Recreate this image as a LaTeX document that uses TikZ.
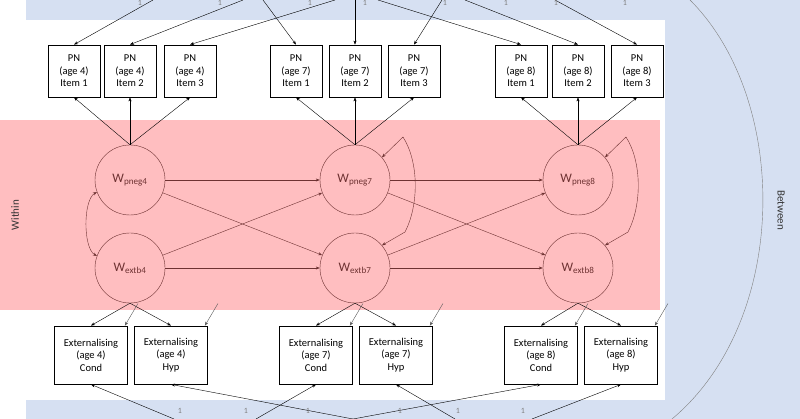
\documentclass[tikz,border=0pt]{standalone}
\usepackage{fontspec}
\setmainfont{Carlito}
\usetikzlibrary{arrows.meta}
\definecolor{bband}{RGB}{214,224,242}
\definecolor{pinkb}{RGB}{255,190,192}
\definecolor{wline}{RGB}{110,50,50}
\begin{document}
\begin{tikzpicture}[x=1pt,y=-1pt,
  box/.style={draw,thick,fill=white,align=center,font=\fontsize{10.5}{12.5}\selectfont,inner sep=1pt},
  pn/.style={box,minimum width=52pt,minimum height=52pt},
  ex/.style={box,minimum width=73pt,minimum height=58pt},
  lat/.style={circle,draw=wline,minimum size=70pt,text=wline,font=\fontsize{13}{14}\selectfont},
  arr/.style={-{Stealth[length=4pt,width=3pt]},thin},
  warr/.style={arr,draw=wline},
  one/.style={font=\fontsize{8}{9}\selectfont,text=gray,inner sep=1pt}]
\useasboundingbox (0,0) rectangle (800,419);
\fill[bband] (26,0) rectangle (800,419);
\fill[white] (26,20) rectangle (665,400);
\fill[pinkb] (0,120) rectangle (660,310);
\draw[gray] (690,0) .. controls (790,100) and (790,320) .. (672,419);
\node[rotate=-90,font=\fontsize{11}{13}\selectfont,text=black!80] (btw) at (781,210) {Between};
\node[rotate=90,font=\fontsize{11}{13}\selectfont,text=black!80] (wtn) at (15,215) {Within};
% PN boxes
\foreach \n/\x/\a/\i in {a1/74/4/1,a2/130/4/2,a3/190/4/3,b1/296/7/1,b2/355/7/2,b3/414/7/3,c1/521/8/1,c2/578/8/2,c3/637/8/3}{
  \node[pn] (\n) at (\x,71) {PN\\(age \a)\\Item \i};}
% externalising
\foreach \n/\x/\a/\t in {ea/91/4/Cond,eb/171/4/Hyp,ec/316/7/Cond,ed/396/7/Hyp,ee/541/8/Cond,ef/621/8/Hyp}{
  \node[ex] (\n) at (\x,355) {Externalising\\(age \a)\\\t};}
% latents
\node[lat] (p4) at (130,180) {W\textsubscript{pneg4}};
\node[lat] (e4) at (130,268) {W\textsubscript{extb4}};
\node[lat] (p7) at (355,180) {W\textsubscript{pneg7}};
\node[lat] (e7) at (355,268) {W\textsubscript{extb7}};
\node[lat] (p8) at (578,180) {W\textsubscript{pneg8}};
\node[lat] (e8) at (578,268) {W\textsubscript{extb8}};
% loadings
\foreach \p/\l in {p4/a1,p4/a2,p4/a3,p7/b1,p7/b2,p7/b3,p8/c1,p8/c2,p8/c3}{\draw[arr] (\p.north) -- (\l.south);}
\foreach \p/\l in {e4/ea,e4/eb,e7/ec,e7/ed,e8/ee,e8/ef}{\draw[arr] (\p.south) -- (\l.north);}
% cross lags
\foreach \s/\t in {p4/p7,p4/e7,e4/p7,e4/e7,p7/p8,p7/e8,e7/p8,e7/e8}{\draw[warr] (\s) -- (\t);}
% covariances
\draw[warr,{Stealth[length=4pt,width=3pt]}-{Stealth[length=4pt,width=3pt]}] (p4.200) .. controls (83,200) and (83,248) .. (e4.160);
\foreach \p/\e/\x in {p7/e7/403,p8/e8/626}{
  \coordinate (t\p) at (\x,137);
  \coordinate (b\p) at (\x+2,232);
  \draw[warr] (t\p) -- (\p.40);
  \draw[warr] (b\p) -- (\e.40);
  \draw[wline] (t\p) .. controls (\x+16,162) and (\x+16,205) .. (b\p);}
% residuals on externalising
\foreach \n in {ea,eb,ec,ed,ee,ef}{
  \coordinate (r\n) at ([shift={(10,-22)}]\n.north east);
  \draw[arr,gray!70!black] (r\n) -- ([xshift=-3pt]\n.north east);}
% top between loadings
\foreach \x/\n in {153/a1,243/a2,335/a3,263/b1,355/b2,442/b3,378/c1,465/c2,555/c3}{
  \coordinate (s\n) at (\x,0);
  \draw[arr] (s\n) -- (\n.north);}
\foreach \x in {140,220,310,365,445,506,556,625}{\node[one] (o\x) at (\x,3) {1};}
% bottom between loadings
\foreach \x/\n in {174/ea,353/eb,256/ec,455/ed,353/ee,532/ef}{
  \coordinate (s\n) at (\x,419);
  \draw[arr] (s\n) -- (\n.south);}
\foreach \x in {180,246,308,400,458,523}{\node[one] (u\x) at (\x,411) {1};}
\end{tikzpicture}
\end{document}
